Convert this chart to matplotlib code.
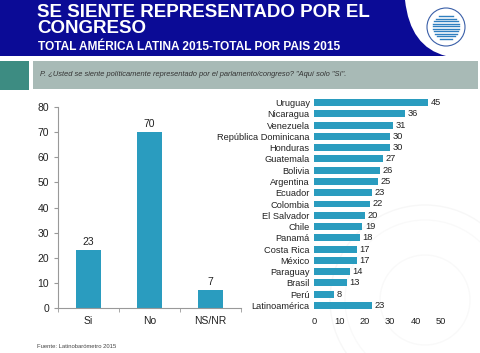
import numpy as np
import matplotlib.pyplot as plt
from matplotlib.patches import Rectangle, PathPatch, Circle
from matplotlib.path import Path

plt.rcParams['font.family'] = ['Liberation Sans', 'DejaVu Sans']

# ---- data ----
resp_labels = ["Si", "No", "NS/NR"]
resp_values = [23, 70, 7]

countries = ["Uruguay", "Nicaragua", "Venezuela", "República Dominicana", "Honduras",
             "Guatemala", "Bolivia", "Argentina", "Ecuador", "Colombia", "El Salvador",
             "Chile", "Panamá", "Costa Rica", "México", "Paraguay", "Brasil", "Perú",
             "Latinoamérica"]
country_values = [45, 36, 31, 30, 30, 27, 26, 25, 23, 22, 20, 19, 18, 17, 17, 14, 13, 8, 23]

title = "SE SIENTE REPRESENTADO POR EL\nCONGRESO"
subtitle = "TOTAL AMÉRICA LATINA 2015-TOTAL POR PAIS 2015"
question = 'P. ¿Usted se siente políticamente representado por el parlamento/congreso? "Aquí solo "Sí".'
source = "Fuente: Latinobarómetro 2015"

BAR = "#2a9cbf"
TXT = "#222222"
W, H = 480, 353

fig = plt.figure(figsize=(W / 100, H / 100), dpi=100)
fig.patch.set_facecolor("white")

# background canvas in pixel coords
bg = fig.add_axes([0, 0, 1, 1], zorder=0)
bg.set_xlim(0, W); bg.set_ylim(H, 0); bg.axis("off")

# faint watermark
for r, a in [(95, 0.08), (80, 0.05), (45, 0.06)]:
    bg.add_patch(Circle((425, 300), r, fill=False, ec="#9a9a9a", lw=1.0, alpha=a))

# blue banner with curved right edge
verts = [(0, 0), (405, 0), (410, 47), (446, 56), (0, 56), (0, 0)]
codes = [Path.MOVETO, Path.LINETO, Path.CURVE3, Path.CURVE3, Path.LINETO, Path.CLOSEPOLY]
bg.add_patch(PathPatch(Path(verts, codes), fc="#0b0b96", ec="none"))

# logo
bg.add_patch(Circle((446, 27), 19, fc="white", ec="#3a5fa8", lw=0.8))
for dy in np.arange(-11, 12, 2.5):
    half = np.sqrt(max(0, 13 ** 2 - dy ** 2))
    bg.plot([446 - half, 446 + half], [27 + dy, 27 + dy], color="#2f7fc0", lw=1.0)

bg.text(37, 33, title, color="white", fontsize=13.5, fontweight="bold",
        va="baseline", linespacing=0.9)
bg.text(38, 50, subtitle, color="white", fontsize=8.6, fontweight="bold", va="baseline")

# question band
bg.add_patch(Rectangle((0, 61), 29, 29, fc="#3d8c82", ec="none"))
bg.add_patch(Rectangle((33, 61), 445, 28, fc="#a8bab6", ec="none"))
bg.text(40, 75, question, color="#333333", fontsize=5.4, style="italic", va="center")

bg.text(37, 346, source, color="#444444", fontsize=4.2, va="center")

# ---- left chart ----
ax1 = fig.add_axes([58 / W, 1 - 308 / H, 183 / W, 201 / H], zorder=2)
ax1.patch.set_alpha(0)
x = np.arange(len(resp_labels))
bars = ax1.bar(x, resp_values, width=0.4, color=BAR)
for b, v in zip(bars, resp_values):
    ax1.text(b.get_x() + b.get_width() / 2, v + 1.3, str(v), ha="center", va="bottom",
             fontsize=7.5, color=TXT)
ax1.set_xlim(-0.5, len(resp_labels) - 0.5)
ax1.set_ylim(0, 80)
ax1.set_yticks(range(0, 81, 10))
ax1.set_xticks(x)
ax1.set_xticklabels(resp_labels)
ax1.set_xticks(np.arange(-0.5, len(resp_labels)), minor=True)
ax1.tick_params(axis="x", which="major", length=0, pad=6, labelsize=7.5, colors=TXT)
ax1.tick_params(axis="x", which="minor", length=3, color="#999999")
ax1.tick_params(axis="y", length=3, color="#999999", labelsize=7.5, colors=TXT)
for s in ["top", "right"]:
    ax1.spines[s].set_visible(False)
for s in ["left", "bottom"]:
    ax1.spines[s].set_color("#999999")
    ax1.spines[s].set_linewidth(0.8)

# ---- right chart ----
ax2 = fig.add_axes([314 / W, 1 - 311 / H, 127 / W, 214 / H], zorder=2)
ax2.patch.set_alpha(0)
y = np.arange(len(countries))
ax2.barh(y, country_values, height=0.62, color=BAR)
for yi, v in zip(y, country_values):
    ax2.text(v + 1, yi, str(v), va="center", ha="left", fontsize=6.7, color=TXT)
ax2.set_ylim(len(countries) - 0.5, -0.5)
ax2.set_xlim(0, 50)
ax2.set_yticks(y)
ax2.set_yticklabels(countries)
ax2.set_xticks(range(0, 51, 10))
ax2.tick_params(axis="y", length=0, pad=3, labelsize=6.7, colors=TXT)
ax2.tick_params(axis="x", length=0, pad=4, labelsize=6.7, colors=TXT)
for s in ax2.spines.values():
    s.set_visible(False)

fig.savefig("out.png", dpi=100)
